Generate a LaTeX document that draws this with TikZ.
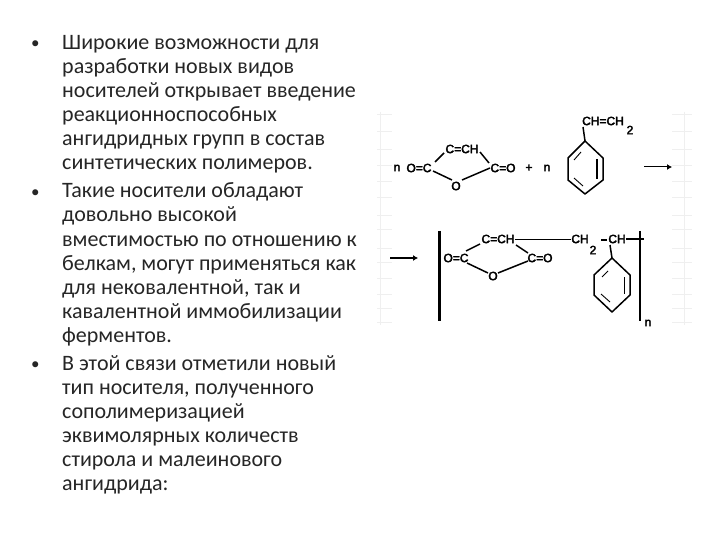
\documentclass[tikz,border=0pt]{standalone}
\usepackage{fontspec}
\setmainfont{Carlito}
\newfontfamily\chemfont{Liberation Sans}[FakeBold=3]
\usetikzlibrary{arrows.meta}
\definecolor{txt}{HTML}{262626}
\definecolor{faint}{HTML}{EFEFEF}
\tikzset{
 line/.style={text=txt,anchor=base west,inner sep=0pt,font=\fontsize{22}{24}\selectfont},
 bul/.style={text=txt,anchor=base west,inner sep=0pt,font=\fontsize{17}{20}\selectfont},
 chem/.style={inner sep=0pt,text=black,font=\chemfont\fontsize{12}{13}\selectfont},
 bond/.style={draw=black,line width=1.5pt},
 thinbond/.style={draw=black,line width=.9pt},
 barthick/.style={draw=black,line width=3pt},
 barthin/.style={draw=black,line width=2pt},
 arr/.style={draw=black,line width=1pt,-{Latex[length=5pt,width=6pt]}},
 grid/.style={draw=faint,line width=1pt},
}
\begin{document}
\begin{tikzpicture}[x=1pt,y=-1pt]
\useasboundingbox[fill=white] (0,0) rectangle (720,540);
% faint background marks
\foreach \y in {115,132,150,166,182,198,216,230,248,262,278,294,308,322}{
 \draw[grid] (377,\y) -- (392,\y);
 \draw[grid] (672,\y) -- (692,\y);
}
\draw[grid] (380,112) -- (380,325);
\draw[grid] (684,112) -- (684,325);
% text
\node[bul] (b1) at (31,49) {•};
\node[line] (l1) at (62,50) {Широкие возможности для};
\node[line] (l2) at (62,74) {разработки новых видов};
\node[line] (l3) at (62,98) {носителей открывает введение};
\node[line] (l4) at (62,122) {реакционноспособных};
\node[line] (l5) at (62,146) {ангидридных групп в состав};
\node[line] (l6) at (62,170) {синтетических полимеров.};
\node[bul] (b2) at (31,197) {•};
\node[line] (l7) at (62,198) {Такие носители обладают};
\node[line] (l8) at (62,222) {довольно высокой};
\node[line] (l9) at (62,246) {вместимостью по отношению к};
\node[line] (l10) at (62,270) {белкам, могут применяться как};
\node[line] (l11) at (62,294) {для нековалентной, так и};
\node[line] (l12) at (62,318) {кавалентной иммобилизации};
\node[line] (l13) at (62,342) {ферментов.};
\node[bul] (b3) at (31,369) {•};
\node[line] (l14) at (62,370) {В этой связи отметили новый};
\node[line] (l15) at (62,394) {тип носителя, полученного};
\node[line] (l16) at (62,418) {сополимеризацией};
\node[line] (l17) at (62,442) {эквимолярных количеств};
\node[line] (l18) at (62,466) {стирола и малеинового};
\node[line] (l19) at (62,490) {ангидрида:};
% top reaction
\node[chem] (n1) at (397,168) {n};
\node[chem] (oc1) at (419,168) {O=C};
\node[chem] (cch1) at (462,149) {C=CH};
\node[chem] (co1) at (503,168) {C=O};
\node[chem] (o1) at (456,186) {O};
\node[chem] (plus) at (529,168) {+};
\node[chem] (n2) at (547,168) {n};
\draw[bond] (435,162) -- (444,153);
\draw[bond] (480,152) -- (489,163);
\draw[bond] (433,171) -- (452,180);
\draw[bond] (462,180) -- (490,168);
\node[chem] (cc1) at (603,121) {CH=CH};
\node[chem] (two1) at (630,130) {2};
\coordinate (a1) at (585,141);
\coordinate (a2) at (603,158);
\coordinate (a3) at (603,180);
\coordinate (a4) at (585,194);
\coordinate (a5) at (568,180);
\coordinate (a6) at (568,158);
\draw[bond,line join=round] (a1) -- (a2) -- (a3) -- (a4) -- (a5) -- (a6) -- cycle;
\draw[bond] (a1) -- (583,127);
\draw[bond,line width=1.8pt] (597,159) -- (597,179);
\draw[thinbond] (574,160) -- (581,152);
\draw[thinbond] (574,178) -- (583,186);
\coordinate (r1s) at (644,167);
\coordinate (r1e) at (672,167);
\draw[arr] (r1s) -- (r1e);
% bottom product
\coordinate (r2s) at (390,258);
\coordinate (r2e) at (418,258);
\draw[arr,line width=1.6pt] (r2s) -- (r2e);
\coordinate (bl1) at (439.5,231);
\coordinate (bl2) at (439.5,321);
\draw[barthick] (bl1) -- (bl2);
\node[chem] (oc2) at (456,258) {O=C};
\node[chem] (cch2) at (498,239) {C=CH};
\node[chem] (co2) at (540,258) {C=O};
\node[chem] (o2) at (493,276) {O};
\draw[bond] (466,251) -- (480,244);
\draw[bond] (516,245) -- (528,253);
\draw[bond] (467,263) -- (488,273);
\draw[bond] (498,273) -- (528,261);
\node[chem] (ch2) at (580,239) {CH};
\node[chem] (two2) at (593,250) {2};
\draw[thinbond] (cch2.east) -- (ch2.west);
\node[chem] (ch3) at (617,239) {CH};
\draw[bond,line width=1.8pt] (601,240) -- (607,240);
\coordinate (br1) at (640,231);
\coordinate (br2) at (640,321);
\draw[barthin] (br1) -- (br2);
\coordinate (brt) at (644,239);
\draw[barthick,line width=2.4pt] (ch3.east) -- (brt);
\node[chem] (n3) at (648,323) {n};
\coordinate (b1a) at (612,258);
\coordinate (b2a) at (630,275);
\coordinate (b3a) at (630,295);
\coordinate (b4a) at (612,312);
\coordinate (b5a) at (594,295);
\coordinate (b6a) at (594,275);
\draw[bond,line join=round] (b1a) -- (b2a) -- (b3a) -- (b4a) -- (b5a) -- (b6a) -- cycle;
\draw[bond] (b1a) -- (610,245);
\draw[thinbond] (624,277) -- (624,294);
\draw[thinbond] (602,277) -- (608,271);
\draw[thinbond] (601,294) -- (610,302);
\end{tikzpicture}
\end{document}
